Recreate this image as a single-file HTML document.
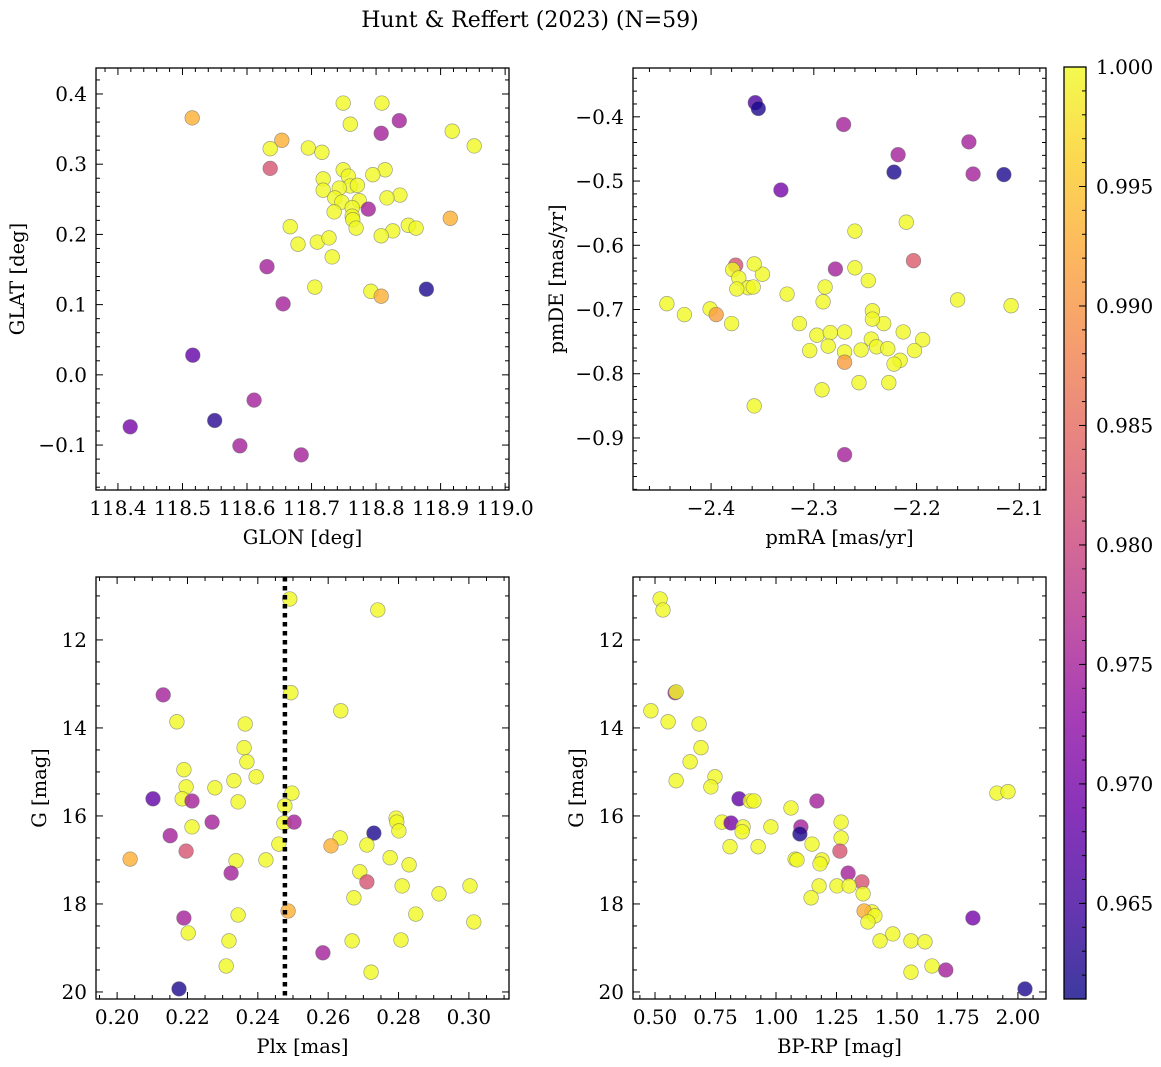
<!DOCTYPE html>
<html><head><meta charset="utf-8">
<style>
html,body{margin:0;padding:0;background:#fff;}
svg{display:block;font-family:"DejaVu Serif","Liberation Serif",serif;}
</style></head>
<body>
<svg id="fig" width="1161" height="1067" viewBox="0 0 1161 1067" xmlns="http://www.w3.org/2000/svg">
<text x="530" y="27" font-size="22" text-anchor="middle" fill="#000">Hunt &amp; Reffert (2023) (N=59)</text>
</svg>
<script>
// ---- Panel 1: GLON vs GLAT ----
const glonA = [118.515,118.654,118.636,118.749,118.809,118.760,118.808,118.836,118.918,118.952,118.636,118.695,118.716,118.749,118.814,118.718,118.718,118.757,118.760,118.743,118.771,118.795,118.837,118.817,118.736,118.747,118.774,118.763,118.735,118.763,118.764,118.769,118.788,118.667,118.850,118.826,118.862,118.808,118.679,118.709,118.727,118.732,118.915,118.631,118.705,118.792,118.808,118.656,118.878,118.516,118.550,118.611,118.419,118.589,118.684];
const glatA = [0.366,0.334,0.294,0.387,0.387,0.357,0.344,0.362,0.347,0.326,0.322,0.323,0.317,0.292,0.292,0.279,0.263,0.283,0.269,0.266,0.270,0.285,0.256,0.252,0.252,0.246,0.248,0.238,0.232,0.226,0.221,0.209,0.236,0.211,0.213,0.205,0.209,0.198,0.186,0.189,0.195,0.168,0.223,0.154,0.125,0.119,0.112,0.101,0.122,0.028,-0.065,-0.036,-0.074,-0.101,-0.114];
const probA = [.993,.993,.982,1,1,1,.975,.975,1,1,1,1,1,1,1,1,1,1,1,1,1,1,1,1,1,1,1,1,1,1,1,1,.975,1,1,1,1,1,1,1,1,1,.993,.975,1,1,.993,.975,.962,.968,.963,.975,.970,.975,.975];
// ---- Panel 2: pmRA vs pmDE ----
const pmraB = [-2.357,-2.354,-2.271,-2.149,-2.218,-2.332,-2.222,-2.145,-2.115,-2.210,-2.260,-2.260,-2.203,-2.279,-2.247,-2.376,-2.379,-2.373,-2.364,-2.359,-2.350,-2.358,-2.375,-2.326,-2.289,-2.443,-2.401,-2.395,-2.426,-2.243,-2.291,-2.160,-2.108,-2.314,-2.380,-2.232,-2.243,-2.297,-2.284,-2.270,-2.213,-2.244,-2.304,-2.286,-2.270,-2.239,-2.254,-2.194,-2.202,-2.216,-2.228,-2.270,-2.222,-2.256,-2.227,-2.292,-2.358,-2.270];
const pmdeB = [-0.378,-0.387,-0.412,-0.439,-0.459,-0.514,-0.486,-0.489,-0.490,-0.564,-0.578,-0.635,-0.624,-0.637,-0.655,-0.631,-0.638,-0.651,-0.666,-0.665,-0.645,-0.629,-0.668,-0.676,-0.665,-0.691,-0.699,-0.708,-0.708,-0.702,-0.688,-0.685,-0.694,-0.722,-0.722,-0.722,-0.715,-0.740,-0.736,-0.735,-0.735,-0.746,-0.764,-0.757,-0.766,-0.758,-0.763,-0.747,-0.764,-0.779,-0.761,-0.782,-0.785,-0.814,-0.814,-0.825,-0.850,-0.926];
const probB = [.966,.962,.975,.975,.975,.970,.962,.975,.962,1,1,1,.983,.975,1,.982,1,1,1,1,1,1,1,1,1,1,1,.991,1,1,1,1,1,1,1,1,1,1,1,1,1,1,1,1,1,1,1,1,1,1,1,.991,1,1,1,1,1,.975];
// ---- Panel 3: Plx vs G ----
const plxC = [0.2491,0.2741,0.2494,0.2636,0.2131,0.2170,0.2364,0.2361,0.2369,0.2395,0.2332,0.2190,0.2196,0.2278,0.2344,0.2102,0.2185,0.2213,0.2477,0.2497,0.2474,0.2503,0.2793,0.2730,0.2795,0.2151,0.2270,0.2213,0.2801,0.2460,0.2634,0.2608,0.2196,0.2710,0.2037,0.2338,0.2423,0.2776,0.2830,0.2324,0.2690,0.2810,0.2673,0.2710,0.2915,0.3003,0.2486,0.2190,0.2344,0.2849,0.3014,0.2202,0.2318,0.2807,0.2668,0.2585,0.2310,0.2722,0.2176];
const gmagC = [11.07,11.32,13.20,13.61,13.25,13.86,13.91,14.45,14.77,15.11,15.20,14.95,15.34,15.36,15.68,15.61,15.61,15.66,15.77,15.48,16.16,16.14,16.05,16.39,16.14,16.45,16.14,16.25,16.34,16.64,16.50,16.68,16.80,16.66,16.98,17.02,17.00,16.95,17.11,17.30,17.27,17.59,17.86,17.50,17.77,17.59,18.16,18.32,18.25,18.23,18.41,18.66,18.84,18.82,18.84,19.11,19.41,19.55,19.93];
const probC = [1,1,1,1,.975,1,1,1,1,1,1,1,1,1,1,.968,1,.975,1,1,1,.975,1,.962,1,.975,.975,1,1,1,1,.993,.982,1,.993,1,1,1,1,.975,1,1,1,.982,1,1,.993,.975,1,1,1,1,1,1,1,.975,1,1,.962];
const plxLine = [0.2477];
// ---- Panel 4: BP-RP vs G ----
const bprpD = [0.521,0.533,0.583,0.587,0.483,0.554,0.682,0.690,0.645,0.748,0.587,0.731,0.847,0.893,0.909,1.062,1.169,1.269,0.777,0.814,0.864,0.860,0.979,1.103,1.099,1.149,1.269,1.264,0.926,0.810,1.079,1.087,1.190,1.182,1.298,1.355,1.178,1.252,1.302,1.360,1.397,1.364,1.409,1.145,1.380,1.483,1.430,1.558,1.616,1.814,1.913,1.959,1.645,1.702,1.558,2.029];
const gmagD = [11.07,11.32,13.20,13.18,13.61,13.86,13.91,14.45,14.77,15.11,15.20,15.34,15.61,15.66,15.66,15.82,15.66,16.14,16.14,16.16,16.25,16.36,16.25,16.25,16.41,16.64,16.50,16.80,16.70,16.70,16.98,17.00,17.00,17.09,17.30,17.50,17.59,17.59,17.59,17.77,18.18,18.16,18.27,17.86,18.41,18.68,18.84,18.84,18.86,18.32,15.48,15.45,19.41,19.50,19.55,19.93];
const probD = [1,1,.975,1,1,1,1,1,1,1,1,1,.968,1,1,1,.975,1,1,.970,1,1,1,.975,.962,1,1,.982,1,1,1,1,1,1,.975,.982,1,1,1,1,1,.993,1,1,1,1,1,1,1,.970,1,1,1,.975,1,.962];
// colorbar
const cbTicks = [0.965,0.970,0.975,0.980,0.985,0.990,0.995,1.000];
const cbRange = [0.961,1.000];

const NS="http://www.w3.org/2000/svg";
const svg=document.getElementById('fig');
function mk(tag,attrs,parent){const e=document.createElementNS(NS,tag);for(const k in attrs)e.setAttribute(k,attrs[k]);(parent||svg).appendChild(e);return e;}
const stops=[[0,[13,8,135]],[.1,[65,4,157]],[.2,[106,0,168]],[.3,[143,13,164]],[.4,[177,42,144]],[.5,[204,71,120]],[.6,[225,100,98]],[.7,[242,132,75]],[.8,[252,166,54]],[.9,[252,206,37]],[1,[240,249,33]]];
function plasma(t){t=Math.max(0,Math.min(1,t));for(let i=1;i<stops.length;i++){if(t<=stops[i][0]){const a=stops[i-1],b=stops[i];const f=(t-a[0])/(b[0]-a[0]);const c=a[1].map((v,j)=>Math.round(v+(b[1][j]-v)*f));return `rgb(${c[0]},${c[1]},${c[2]})`;}}return 'rgb(240,249,33)';}
function cnorm(p){return (p-cbRange[0])/(cbRange[1]-cbRange[0]);}
function fmt(v,d){const s=Math.abs(v).toFixed(d);return (v<-1e-9?'\u2212':'')+s;}
const TFS=20, LFS=19.5;

function panel(o){
  const g=mk('g',{});
  
  
  const X=v=>o.px0+(v-o.xmin)/(o.xmax-o.xmin)*(o.px1-o.px0);
  const Y=v=>o.yinv? o.py0+(v-o.ymin)/(o.ymax-o.ymin)*(o.py1-o.py0) : o.py1-(v-o.ymin)/(o.ymax-o.ymin)*(o.py1-o.py0);
  const pg=mk('g',{},g);
  
  
  for(let i=0;i<o.xs.length;i++){
    const c=mk('circle',{cx:X(o.xs[i]).toFixed(1),cy:Y(o.ys[i]).toFixed(1),r:7.3,fill:plasma(cnorm(o.ps[i])),'fill-opacity':0.8,stroke:'#666','stroke-opacity':0.6,'stroke-width':0.7},pg);
    
    
  }
  if(o.vline){for(const v of o.vline){const l=mk('line',{x1:X(v),x2:X(v),y1:o.py0,y2:o.py1,stroke:'#000','stroke-width':4.5,'stroke-dasharray':'4.5,4.5'},g);
    
    }}
  const fr=mk('rect',{x:o.px0,y:o.py0,width:o.px1-o.px0,height:o.py1-o.py0,fill:'none',stroke:'#000','stroke-width':1.3},g);
  
  
  const eps=1e-9;
  for(let v=Math.ceil((o.xmin)/o.xminor-eps)*o.xminor; v<=o.xmax+eps; v+=o.xminor){
    const x=X(v); const isMaj=Math.abs(v/o.xmajor-Math.round(v/o.xmajor))<1e-6; const L=isMaj?7:4;
    mk('line',{x1:x,x2:x,y1:o.py1,y2:o.py1-L,stroke:'#000','stroke-width':1},g);
    mk('line',{x1:x,x2:x,y1:o.py0,y2:o.py0+L,stroke:'#000','stroke-width':1},g);
    if(isMaj){const t=mk('text',{x:x,y:o.py1+25,'font-size':TFS,'text-anchor':'middle'},g);t.textContent=fmt(Math.round(v/o.xmajor)*o.xmajor,o.xdec);
      }
  }
  for(let v=Math.ceil((o.ymin)/o.yminor-eps)*o.yminor; v<=o.ymax+eps; v+=o.yminor){
    const y=Y(v); const isMaj=Math.abs(v/o.ymajor-Math.round(v/o.ymajor))<1e-6; const L=isMaj?7:4;
    mk('line',{x1:o.px0,x2:o.px0+L,y1:y,y2:y,stroke:'#000','stroke-width':1},g);
    mk('line',{x1:o.px1,x2:o.px1-L,y1:y,y2:y,stroke:'#000','stroke-width':1},g);
    if(isMaj){const t=mk('text',{x:o.px0-9,y:y+7,'font-size':TFS,'text-anchor':'end'},g);t.textContent=fmt(Math.round(v/o.ymajor)*o.ymajor,o.ydec);
      }
  }
  const xl=mk('text',{x:(o.px0+o.px1)/2,y:o.py1+54,'font-size':LFS,'text-anchor':'middle'},g);xl.textContent=o.xlabel;
  
  const cx=o.ylx, cy=(o.py0+o.py1)/2;
  const yl=mk('text',{x:cx,y:cy,'font-size':LFS,'text-anchor':'middle',transform:`rotate(-90 ${cx} ${cy})`},g);yl.textContent=o.ylabel;
  
}
panel({name:'glon-glat-panel',xs:glonA,ys:glatA,ps:probA,px0:96,px1:509,py0:68,py1:490,xmin:118.366,xmax:119.006,ymin:-0.164,ymax:0.437,xmajor:0.1,xminor:0.02,ymajor:0.1,yminor:0.02,xdec:1,ydec:1,xlabel:'GLON [deg]',ylabel:'GLAT [deg]',ylx:24});
panel({name:'pm-panel',xs:pmraB,ys:pmdeB,ps:probB,px0:633,px1:1046,py0:68,py1:490,xmin:-2.476,xmax:-2.074,ymin:-0.981,ymax:-0.324,xmajor:0.1,xminor:0.02,ymajor:0.1,yminor:0.02,xdec:1,ydec:1,xlabel:'pmRA [mas/yr]',ylabel:'pmDE [mas/yr]',ylx:563});
panel({name:'plx-g-panel',xs:plxC,ys:gmagC,ps:probC,vline:plxLine,px0:96,px1:509,py0:577,py1:999,xmin:0.194,xmax:0.3114,ymin:10.57,ymax:20.16,yinv:true,xmajor:0.02,xminor:0.005,ymajor:2,yminor:0.5,xdec:2,ydec:0,xlabel:'Plx [mas]',ylabel:'G [mag]',ylx:46});
panel({name:'cmd-panel',xs:bprpD,ys:gmagD,ps:probD,px0:633,px1:1046,py0:577,py1:999,xmin:0.409,xmax:2.116,ymin:10.57,ymax:20.16,yinv:true,xmajor:0.25,xminor:0.0625,ymajor:2,yminor:0.5,xdec:2,ydec:0,xlabel:'BP-RP [mag]',ylabel:'G [mag]',ylx:583});

(function(){
  const x0=1064,x1=1086,y0=67,y1=999;
  const g=mk('g',{});
  
  
  const defs=mk('defs',{},g);
  const lg=mk('linearGradient',{id:'cbg',x1:0,y1:1,x2:0,y2:0},defs);
  for(let i=0;i<=20;i++){mk('stop',{offset:(i/20),'stop-color':plasma(i/20),'stop-opacity':0.8},lg);}
  mk('rect',{x:x0,y:y0,width:x1-x0,height:y1-y0,fill:'url(#cbg)',stroke:'#000','stroke-width':1.3},g);
  const Y=v=>y1-(v-cbRange[0])/(cbRange[1]-cbRange[0])*(y1-y0);
  for(let v=Math.ceil(cbRange[0]/0.001-1e-6)*0.001; v<=cbRange[1]+1e-9; v+=0.001){
    const y=Y(v); mk('line',{x1:x1,x2:x1-4,y1:y,y2:y,stroke:'#000','stroke-width':1},g);
  }
  for(const v of cbTicks){
    const y=Y(v);
    mk('line',{x1:x1,x2:x1-7,y1:y,y2:y,stroke:'#000','stroke-width':1},g);
    const t=mk('text',{x:x1+10,y:y+7,'font-size':TFS},g);t.textContent=v.toFixed(3);
    
  }
})();
</script>
</body></html>
